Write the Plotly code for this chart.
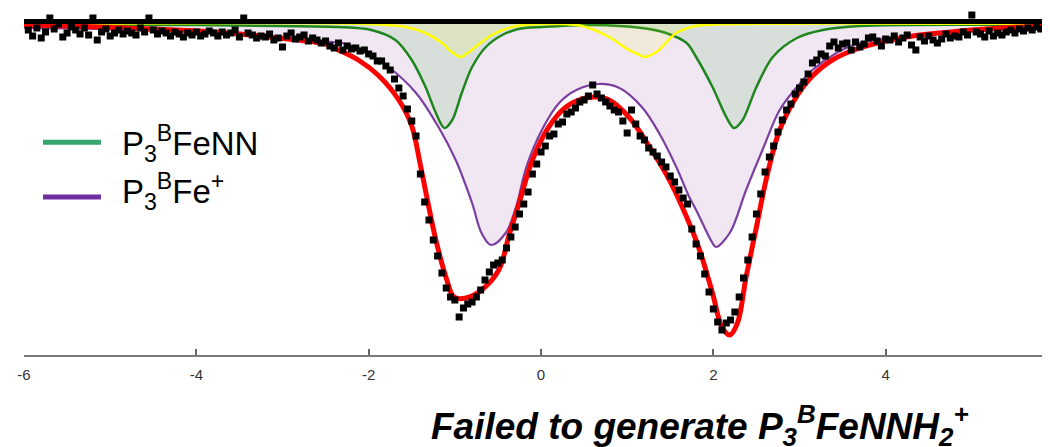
import numpy as np
import plotly.graph_objects as go

# ---------------- data (absorption in %, velocity in mm/s) ----------------
# velocity channels of the measured spectrum
VELOCITY = np.round(np.arange(-5.95, 5.901, 0.05), 2)

ABSORPTION = [
    # -5.95 .. -2.50
    0.06, 0.12, 0.04, 0.14, 0.08, -0.06, 0.05, 0.00, 0.13, 0.09,
    0.03, 0.06, 0.10, 0.04, 0.11, -0.06, 0.16, 0.08, 0.05, 0.12,
    0.09, 0.06, 0.10, 0.07, 0.09, 0.11, 0.04, 0.08, -0.06, 0.06,
    0.10, 0.07, 0.09, 0.12, 0.08, 0.10, 0.13, 0.09, 0.11, 0.08,
    0.12, 0.10, 0.07, 0.09, 0.12, 0.08, 0.11, 0.09, 0.06, 0.13,
    -0.06, 0.09, 0.11, 0.14, 0.12, 0.13, 0.10, 0.16, 0.14, 0.23,
    0.12, 0.09, 0.15, 0.13, 0.11, 0.17, 0.14, 0.16, 0.19, 0.17,
    # -2.45 .. -0.30
    0.22, 0.24, 0.19, 0.26, 0.22, 0.25, 0.24, 0.27, 0.26, 0.30,
    0.32, 0.37, 0.37, 0.42, 0.46, 0.55, 0.64, 0.72, 0.85, 0.97,
    1.12, 1.50, 1.78, 1.96, 2.16, 2.32, 2.49, 2.64, 2.73, 2.76,
    2.93, 2.84, 2.80, 2.78, 2.73, 2.66, 2.56, 2.48, 2.41, 2.39,
    2.36, 2.24, 2.13, 2.03,
    # -0.25 .. 1.70
    1.90, 1.80, 1.68, 1.50, 1.40, 1.28, 1.22, 1.12, 1.10, 1.00,
    0.98, 0.90, 0.88, 0.84, 0.78, 0.76, 0.72, 0.61, 0.70, 0.74,
    0.78, 0.82, 0.86, 0.88, 0.97, 1.09, 0.86, 1.00, 1.12, 1.16,
    1.24, 1.28, 1.32, 1.38, 1.43, 1.52, 1.58, 1.66, 1.74, 1.80,
    # 1.75 .. 3.70
    2.05, 2.20, 2.32, 2.50, 2.68, 2.85, 2.98, 3.06, 2.99, 2.96,
    2.88, 2.73, 2.54, 2.36, 2.13, 1.90, 1.70, 1.48, 1.33, 1.22,
    1.08, 0.96, 0.86, 0.80, 0.70, 0.64, 0.58, 0.50, 0.39, 0.36,
    0.30, 0.32, 0.22, 0.18, 0.24, 0.20, 0.19, 0.26, 0.18, 0.23,
    # 3.75 .. 5.90
    0.20, 0.14, 0.13, 0.17, 0.22, 0.15, 0.16, 0.12, 0.18, 0.14,
    0.11, 0.21, 0.26, 0.13, 0.17, 0.12, 0.16, 0.19, 0.15, 0.10,
    0.14, 0.12, 0.13, 0.08, 0.11, -0.09, 0.08, 0.10, 0.13, 0.07,
    0.12, 0.09, 0.11, 0.08, 0.06, 0.09, 0.05, 0.07, 0.04, 0.06,
    0.03, 0.05, 0.02, 0.04,
]

# total fit (red)
FIT_V = [-6.0, -5.14, -3.98, -3.5, -3.05, -2.5, -2.35, -2.12, -1.88, -1.65, -1.50, -1.40,
         -1.33, -1.22, -1.10, -1.01, -0.87, -0.69, -0.49, -0.37, -0.26, -0.10, 0.09,
         0.29, 0.52, 0.64, 0.79, 1.02, 1.26, 1.49, 1.69, 1.84, 1.99, 2.10, 2.19, 2.28,
         2.38, 2.50, 2.62, 2.77, 2.97, 3.15, 3.38, 3.70, 4.24, 4.63, 5.33, 5.91]
FIT_A = [0.01, 0.03, 0.07, 0.10, 0.14, 0.20, 0.26, 0.36, 0.52, 0.76, 1.02, 1.41,
         1.71, 2.16, 2.54, 2.73, 2.74, 2.66, 2.46, 2.11, 1.81, 1.36, 1.03,
         0.83, 0.74, 0.73, 0.76, 0.93, 1.23, 1.56, 1.93, 2.26, 2.69, 3.03, 3.11, 2.99,
         2.53, 2.03, 1.53, 1.06, 0.72, 0.52, 0.36, 0.24, 0.13, 0.09, 0.04, 0.02]

# P3BFe+ doublet (purple)
FE_V = [-6.0, -5.14, -3.98, -2.81, -2.31, -2.12, -1.77, -1.45, -1.19, -0.99, -0.80, -0.69,
        -0.58, -0.41, -0.29, -0.17, 0.01, 0.21, 0.41, 0.67, 0.91, 1.17, 1.37, 1.57,
        1.72, 1.80, 1.99, 2.03, 2.19, 2.38, 2.57, 2.77, 2.97, 3.15, 3.43, 3.70, 4.74, 5.91]
FE_A = [0.04, 0.05, 0.08, 0.16, 0.19, 0.24, 0.43, 0.69, 1.03, 1.36, 1.79, 2.09,
        2.21, 2.09, 1.83, 1.43, 1.06, 0.79, 0.66, 0.60, 0.64, 0.83, 1.09, 1.43,
        1.73, 1.86, 2.19, 2.23, 2.09, 1.66, 1.26, 0.86, 0.63, 0.46, 0.29, 0.19, 0.09, 0.04]

# P3BFeNN doublet (green)
NN_V = [-6.0, -4.0, -3.0, -2.35, -1.97, -1.69, -1.50, -1.34, -1.22, -1.12, -1.03, -0.92,
        -0.80, -0.64, -0.45, -0.26, 0.01, 0.59, 1.17, 1.45, 1.69, 1.80, 1.99, 2.15,
        2.24, 2.34, 2.50, 2.69, 2.97, 3.27, 3.70, 5.91]
NN_A = [0.01, 0.01, 0.02, 0.03, 0.06, 0.16, 0.36, 0.63, 0.89, 1.04, 0.96, 0.69,
        0.43, 0.23, 0.11, 0.05, 0.03, 0.01, 0.04, 0.09, 0.19, 0.33, 0.63, 0.93,
        1.04, 0.96, 0.63, 0.33, 0.14, 0.06, 0.02, 0.01]

# third minor doublet (yellow)
Y_V = [-6.0, -2.0, -1.57, -1.34, -1.15, -1.05, -0.93, -0.85, -0.76, -0.57, -0.29, 0.21,
       0.48, 0.79, 1.02, 1.12, 1.21, 1.30, 1.37, 1.57, 1.80, 2.30, 5.91]
Y_A = [0.0, 0.0, 0.03, 0.09, 0.19, 0.27, 0.33, 0.29, 0.23, 0.11, 0.02, 0.0,
       0.02, 0.13, 0.26, 0.30, 0.33, 0.30, 0.26, 0.09, 0.02, 0.0, 0.0]

TICKS = [-6, -4, -2, 0, 2, 4]
LEGEND_LABELS = ["P<sub>3</sub><sup>B</sup>FeNN", "P<sub>3</sub><sup>B</sup>Fe<sup>+</sup>"]
TITLE = "<b><i>Failed to generate P<sub>3</sub><sup>B</sup>FeNNH<sub>2</sub><sup>+</sup></i></b>"

assert len(VELOCITY) == len(ABSORPTION)

FONT = "Liberation Sans, Arial, sans-serif"

fig = go.Figure()

# component fills + lines
fig.add_trace(go.Scatter(x=FE_V, y=FE_A, mode="lines", fill="tozeroy",
                         fillcolor="rgba(128,60,160,0.12)",
                         line=dict(color="#7b3fa0", width=2.2, shape="spline", smoothing=1.0),
                         showlegend=False, hoverinfo="skip"))
fig.add_trace(go.Scatter(x=NN_V, y=NN_A, mode="lines", fill="tozeroy",
                         fillcolor="rgba(80,179,84,0.15)",
                         line=dict(color="#1f861f", width=2.5, shape="spline", smoothing=0.9),
                         showlegend=False, hoverinfo="skip"))
fig.add_trace(go.Scatter(x=Y_V, y=Y_A, mode="lines", fill="tozeroy",
                         fillcolor="rgba(255,255,0,0.10)",
                         line=dict(color="#ffff00", width=2.5, shape="spline", smoothing=0.9),
                         showlegend=False, hoverinfo="skip"))
# total fit
fig.add_trace(go.Scatter(x=FIT_V, y=FIT_A, mode="lines",
                         line=dict(color="#ff0000", width=5, shape="spline", smoothing=1.0),
                         showlegend=False, hoverinfo="skip"))
# data
fig.add_trace(go.Scatter(x=VELOCITY, y=ABSORPTION, mode="markers",
                         marker=dict(symbol="square", size=7, color="black", line=dict(width=0)),
                         showlegend=False))

# baseline bar on top
fig.add_shape(type="line", xref="paper", yref="y", x0=0, x1=1, y0=-0.025, y1=-0.025,
              line=dict(color="black", width=5), layer="above")

# hand-drawn legend (positions given in page pixels, converted to paper fractions)
PW = 1026.0
def px(p):
    return (p - 24) / PW

leg_colors = ["#34a66e", "#7030a0"]
leg_y = [0.617, 0.458]
txt_y = [0.612, 0.475]
for lab, col, ly, ty in zip(LEGEND_LABELS, leg_colors, leg_y, txt_y):
    fig.add_shape(type="line", xref="paper", yref="paper", x0=px(43), x1=px(101), y0=ly, y1=ly,
                  line=dict(color=col, width=5))
    fig.add_annotation(xref="paper", yref="paper", x=px(120), y=ty, text=lab, showarrow=False,
                       xanchor="left", yanchor="middle",
                       font=dict(family=FONT, size=33, color="black"))

fig.add_annotation(xref="paper", yref="paper", x=px(700), y=-0.203, text=TITLE, showarrow=False,
                   xanchor="center", yanchor="middle",
                   font=dict(family=FONT, size=37, color="black"))

fig.update_xaxes(range=[-6, 5.907], tickvals=TICKS, ticktext=[str(t) for t in TICKS],
                 ticks="inside", ticklen=6, tickwidth=1.5, tickcolor="#666",
                 showline=True, linecolor="#7a7a7a", linewidth=2, automargin=False,
                 showgrid=False, zeroline=False, ticklabelstandoff=5,
                 tickfont=dict(family=FONT, size=15, color="#333"))
fig.update_yaxes(range=[3.31, -0.14], visible=False, showgrid=False, zeroline=False,
                 automargin=False)

# the page body keeps an 8px default margin: size the figure so it fits the window
fig.update_layout(width=1042, height=439, margin=dict(l=16, r=0, t=2, b=92),
                  plot_bgcolor="white", paper_bgcolor="white", showlegend=False)

fig.write_html("out.html")
